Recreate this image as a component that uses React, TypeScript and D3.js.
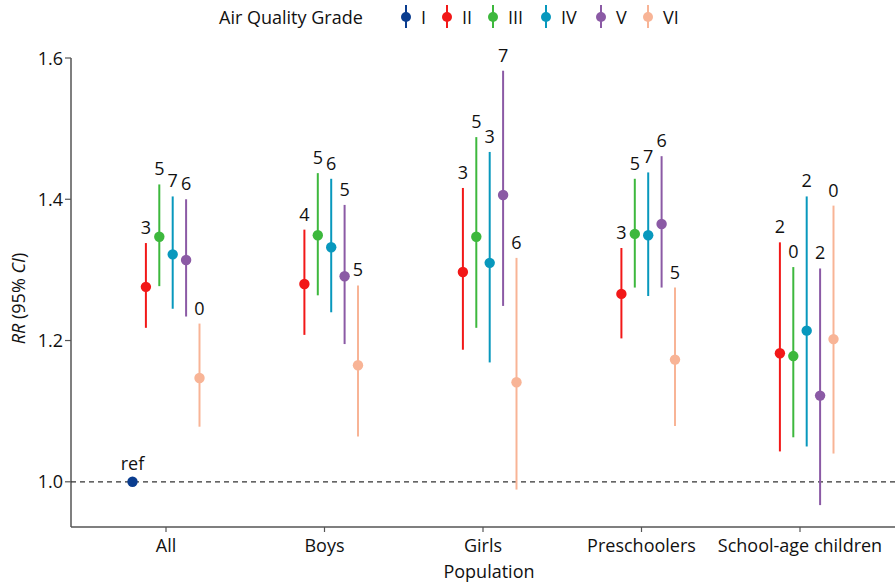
import React from "react";
import * as d3 from "d3";

const categories = ["All", "Boys", "Girls", "Preschoolers", "School-age children"];
const grades = ["I", "II", "III", "IV", "V", "VI"];
const colors = ["#0a3d8f", "#f21818", "#3db83d", "#0898bd", "#8b5aa5", "#f8b496"];

// RR point estimates per grade (II..VI) per category
const rrII = [1.276, 1.280, 1.297, 1.266, 1.182];
const rrIII = [1.347, 1.349, 1.347, 1.351, 1.178];
const rrIV = [1.322, 1.332, 1.310, 1.349, 1.214];
const rrV = [1.314, 1.291, 1.406, 1.365, 1.122];
const rrVI = [1.147, 1.165, 1.141, 1.173, 1.202];

const loII = [1.218, 1.208, 1.187, 1.203, 1.043];
const loIII = [1.277, 1.264, 1.218, 1.275, 1.063];
const loIV = [1.245, 1.240, 1.169, 1.263, 1.050];
const loV = [1.234, 1.195, 1.249, 1.275, 0.967];
const loVI = [1.078, 1.064, 0.989, 1.079, 1.040];

const hiII = [1.338, 1.357, 1.416, 1.331, 1.339];
const hiIII = [1.421, 1.437, 1.488, 1.429, 1.304];
const hiIV = [1.404, 1.429, 1.467, 1.438, 1.404];
const hiV = [1.400, 1.392, 1.582, 1.461, 1.302];
const hiVI = [1.224, 1.278, 1.317, 1.275, 1.391];

const lblII = ["3", "4", "3", "3", "2"];
const lblIII = ["5", "5", "5", "5", "0"];
const lblIV = ["7", "6", "3", "7", "2"];
const lblV = ["6", "5", "7", "6", "2"];
const lblVI = ["0", "5", "6", "5", "0"];

const refValue = 1.0;
const yTicks = [1.0, 1.2, 1.4, 1.6];

const series = [
  { rr: rrII, lo: loII, hi: hiII, lbl: lblII },
  { rr: rrIII, lo: loIII, hi: hiIII, lbl: lblIII },
  { rr: rrIV, lo: loIV, hi: hiIV, lbl: lblIV },
  { rr: rrV, lo: loV, hi: hiV, lbl: lblV },
  { rr: rrVI, lo: loVI, hi: hiVI, lbl: lblVI },
];

const W = 895;
const H = 583;
const FONT = "'Open Sans', sans-serif";
const FS = 18;
const axisColor = "#555";

export default function App() {
  const left = 71;
  const right = W;
  const top = 58;
  const bottom = 527;
  const y = d3.scaleLinear().domain([0.936, 1.6]).range([bottom, top]);
  const x = d3.scalePoint<string>().domain(categories).range([166, 800]);
  const off = d3.scaleLinear().domain([0, 5]).range([-33.5, 33.5]);

  const legendX = [406, 447, 493, 546, 601, 648];

  return (
    <svg width={W} height={H} style={{ position: "absolute", left: 0, top: 0, fontFamily: FONT }}>
      {/* legend */}
      <text x={219} y={24} fontSize={FS} fill="#111">Air Quality Grade</text>
      {grades.map((g, i) => (
        <g key={g} transform={`translate(${legendX[i]},17)`}>
          <line y1={-12} y2={11} stroke={colors[i]} strokeWidth={2} />
          <circle r={5} fill={colors[i]} />
          <text x={15} y={7} fontSize={FS} fill="#111">{g}</text>
        </g>
      ))}

      {/* axes */}
      <line x1={left} x2={left} y1={y(1.6)} y2={bottom} stroke={axisColor} strokeWidth={1.5} />
      <line x1={left} x2={right} y1={bottom} y2={bottom} stroke={axisColor} strokeWidth={1.5} />
      {yTicks.map((t) => (
        <g key={t}>
          <line x1={left - 6} x2={left} y1={y(t)} y2={y(t)} stroke={axisColor} strokeWidth={1.2} />
          <text x={left - 8} y={y(t) + 6.5} textAnchor="end" fontSize={FS} fill="#111">{t.toFixed(1)}</text>
        </g>
      ))}
      {categories.map((c) => (
        <g key={c}>
          <line x1={x(c)} x2={x(c)} y1={bottom} y2={bottom + 5} stroke={axisColor} strokeWidth={1.2} />
          <text x={x(c)} y={bottom + 25} textAnchor="middle" fontSize={FS} fill="#111">{c}</text>
        </g>
      ))}
      <text x={(left + right) / 2 + 6} y={578} textAnchor="middle" fontSize={FS} fill="#111">Population</text>
      <text transform={`translate(25,${(top + bottom) / 2 + 6}) rotate(-90)`} textAnchor="middle" fontSize={FS} fill="#111">
        <tspan fontStyle="italic">RR</tspan> (95% <tspan fontStyle="italic">CI</tspan>)
      </text>

      {/* reference line */}
      <line x1={left} x2={right} y1={y(refValue)} y2={y(refValue)} stroke="#333" strokeWidth={1.3} strokeDasharray="5,4" />
      <circle cx={x(categories[0])! + off(0)} cy={y(refValue)} r={5.2} fill={colors[0]} />
      <text x={x(categories[0])! + off(0)} y={y(refValue) - 12} textAnchor="middle" fontSize={FS} fill="#111">ref</text>

      {/* error bars */}
      {series.map((s, si) =>
        categories.map((c, ci) => {
          const cx = x(c)! + off(si + 1);
          const col = colors[si + 1];
          return (
            <g key={`${si}-${ci}`}>
              <line x1={cx} x2={cx} y1={y(s.lo[ci])} y2={y(s.hi[ci])} stroke={col} strokeWidth={2} />
              <circle cx={cx} cy={y(s.rr[ci])} r={5.2} fill={col} />
              <text x={cx} y={y(s.hi[ci]) - 9} textAnchor="middle" fontSize={FS} fill="#111">{s.lbl[ci]}</text>
            </g>
          );
        })
      )}
    </svg>
  );
}
